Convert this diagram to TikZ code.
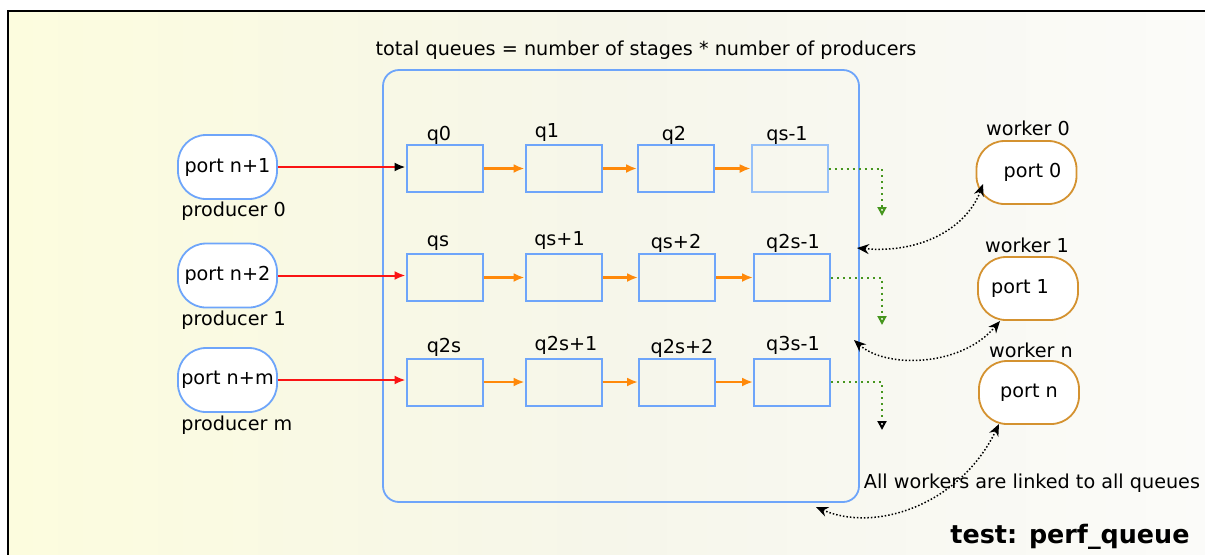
\documentclass[tikz,border=0pt]{standalone}
\usepackage{fontspec}
\setmainfont{DejaVu Sans}
\usetikzlibrary{arrows.meta}
\definecolor{qblue}{RGB}{110,165,250}
\definecolor{qlight}{RGB}{150,192,248}
\definecolor{wor}{RGB}{212,146,48}
\definecolor{arrorange}{RGB}{255,137,10}
\definecolor{arrred}{RGB}{250,20,20}
\definecolor{gdot}{RGB}{70,150,30}
\definecolor{bgleft}{RGB}{252,252,222}
\definecolor{bgmid}{RGB}{246,246,234}
\definecolor{bgright}{RGB}{251,251,249}
\tikzset{
  txt/.style={font=\fontsize{9.6}{11}\selectfont, inner sep=0pt},
  portbox/.style={txt, draw=qblue, fill=white, line width=0.9pt, rounded corners=14pt, minimum width=49.5pt, minimum height=32pt},
  workbox/.style={txt, draw=wor, fill=white, line width=0.9pt, rounded corners=14pt, minimum width=50pt, minimum height=31.5pt},
  qbox/.style={draw=qblue, line width=1pt, minimum width=38pt, minimum height=23.5pt, inner sep=0pt},
  qboxlight/.style={qbox, draw=qlight},
  redarr/.style={draw=arrred, line width=1pt, -{Latex[length=5.5pt,width=4.5pt]}},
  redarrk/.style={draw=arrred, line width=1pt, -{Latex[length=5.5pt,width=4.5pt,color=black]}},
  orarr/.style={draw=arrorange, line width=1.1pt, -{Latex[length=5.5pt,width=4.5pt]}},
  gdotted/.style={draw=gdot, line width=1pt, dotted, -{Triangle[open,length=4.5pt,width=4.5pt]}},
  gdottedk/.style={draw=gdot, line width=1pt, dotted, -{Triangle[open,length=4.5pt,width=4.5pt,color=black]}},
  wlink/.style={draw=black, line width=0.75pt, densely dotted, {Stealth[length=6pt,width=5pt]}-{Stealth[length=6pt,width=5pt]}},
}
\begin{document}
\begin{tikzpicture}[x=0.5pt,y=-0.5pt]
\useasboundingbox (0,0) rectangle (1205,554);
% background and frame
\fill[left color=bgleft, right color=bgright, middle color=bgmid] (8,11) rectangle (1205,554);
\draw[line width=1.1pt] (8,580) -- (8,11) -- (1230,11);

% container
\node[draw=qblue, line width=0.9pt, rounded corners=8pt, minimum width=238pt, minimum height=216pt, inner sep=0pt] (cont) at (621,286) {};
\node[txt] (title) at (646,50) {total queues = number of stages * number of producers};

% producers
\node[portbox] (p0) at (227.5,167) {port n+1};
\node[portbox] (p1) at (227.5,275.5) {port n+2};
\node[portbox] (p2) at (227.5,380) {port n+m};
\node[txt, anchor=west] (pl0) at (181,211) {producer 0};
\node[txt, anchor=west] (pl1) at (181,320) {producer 1};
\node[txt, anchor=west] (pl2) at (181,425) {producer m};

% queues row 1
\node[qbox] (q0) at (444.5,168.5) {};
\node[qbox] (q1) at (563.5,168.5) {};
\node[qbox] (q2) at (676,168.5) {};
\node[qboxlight] (q3) at (789.7,168.5) {};
% row 2
\node[qbox] (r0) at (444.5,277.5) {};
\node[qbox] (r1) at (563.5,277.5) {};
\node[qbox] (r2) at (677,277.5) {};
\node[qbox] (r3) at (792,277.5) {};
% row 3
\node[qbox] (s0) at (444.5,382) {};
\node[qbox] (s1) at (563.5,382) {};
\node[qbox] (s2) at (677,382) {};
\node[qbox] (s3) at (792,382) {};

% queue labels
\node[txt] (lq0) at (439,135) {q0};
\node[txt] (lq1) at (547,132) {q1};
\node[txt] (lq2) at (674,135) {q2};
\node[txt] (lq3) at (787,135) {qs-1};
\node[txt] (lr0) at (438,243) {qs};
\node[txt] (lr1) at (559.5,240) {qs+1};
\node[txt] (lr2) at (676,243) {qs+2};
\node[txt] (lr3) at (793,243) {q2s-1};
\node[txt] (ls0) at (444,347) {q2s};
\node[txt] (ls1) at (566,345) {q2s+1};
\node[txt] (ls2) at (682,348) {q2s+2};
\node[txt] (ls3) at (793,345) {q3s-1};

% red arrows
\draw[redarrk] (p0.east) -- (p0.east -| q0.west);
\draw[redarr] (p1.east) -- (p1.east -| r0.west);
\draw[redarr] (p2.east) -- (p2.east -| s0.west);

% orange arrows
\draw[orarr] (q0.east) -- (q1.west);
\draw[orarr] (q1.east) -- (q2.west);
\draw[orarr] (q2.east) -- (q3.west);
\draw[orarr] (r0.east) -- (r1.west);
\draw[orarr] (r1.east) -- (r2.west);
\draw[orarr] (r2.east) -- (r3.west);
\draw[orarr] (s0.east) -- (s1.west);
\draw[orarr] (s1.east) -- (s2.west);
\draw[orarr] (s2.east) -- (s3.west);

% green dotted outputs
\coordinate (g0) at (882,216);
\coordinate (g1) at (882,325);
\coordinate (g2) at (882,430);
\draw[gdotted] (q3.east) -| (g0);
\draw[gdotted] (r3.east) -| (g1);
\draw[gdottedk] (s3.east) -| (g2);

% workers
\node[workbox] (w0) at (1026.5,172.5) {\hspace*{6pt}port 0};
\node[workbox] (w1) at (1028,288.5) {port 1\hspace*{8pt}};
\node[workbox] (w2) at (1029,392.5) {port n};
\node[txt] (wl0) at (1028,128) {worker 0};
\node[txt] (wl1) at (1027,245) {worker 1};
\node[txt] (wl2) at (1031,350) {worker n};

% worker links
\coordinate (c0) at (857,248);
\coordinate (a0) at (983,184);
\coordinate (c1) at (854,340);
\coordinate (a1) at (1000,321);
\coordinate (c2) at (816,507);
\coordinate (a2) at (999,424);
\draw[wlink] (c0) .. controls (925,254) and (968,225) .. (a0);
\draw[wlink] (c1) .. controls (885,368) and (960,368) .. (a1);
\draw[wlink] (c2) .. controls (875,533) and (960,505) .. (a2);

\node[txt] (note) at (1032,483) {All workers are linked to all queues};
\node[font=\fontsize{12.7}{14}\selectfont\bfseries, inner sep=0pt] (test) at (1070,537) {test: perf\_queue};
\end{tikzpicture}
\end{document}
